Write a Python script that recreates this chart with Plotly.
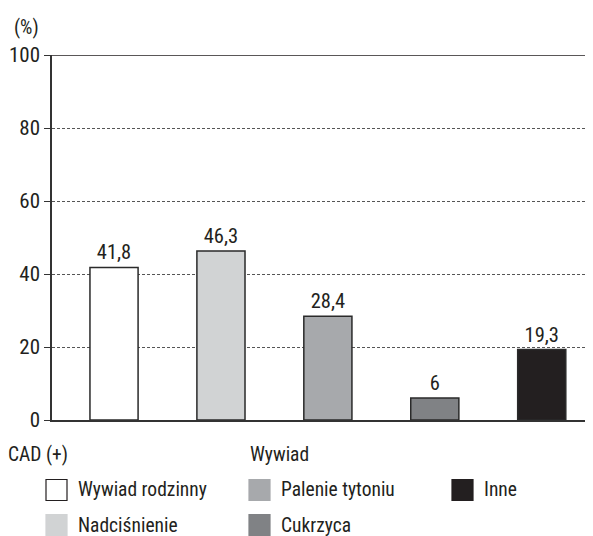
import plotly.graph_objects as go

# ---- data ----
categories = ["Wywiad rodzinny", "Nadciśnienie", "Palenie tytoniu", "Cukrzyca", "Inne"]
values = [41.8, 46.3, 28.4, 6, 19.3]
colors = ["#ffffff", "#d1d3d4", "#a7a9ac", "#808285", "#231f20"]
y_ticks = [0, 20, 40, 60, 80, 100]
legend_headers = ["CAD (+)", "Wywiad"]

labels = [f"{v:g}".replace(".", ",") for v in values]

FONT = "Roboto Condensed, Liberation Sans Narrow, sans-serif"
WEIGHT = 400
OFF = 8  # page body margin
W, H = 593 - OFF, 536 - OFF
L, R, T, B = 52 - OFF, 592 - OFF, 55 - OFF, 420 - OFF  # plot area in figure px


def px(x):  # x in reference-window px
    return (x - OFF - L) / (R - L)


def py(y):
    return (B - (y - OFF)) / (B - T)


fig = go.Figure()
fig.add_trace(go.Bar(
    x=categories, y=values,
    marker=dict(color=colors, line=dict(color="#2a2a2a", width=1.5)),
    width=0.45,
    text=labels, textposition="outside", cliponaxis=False,
    textfont=dict(family=FONT, size=20.5, color="#231f20", weight=WEIGHT),
    showlegend=False, hoverinfo="x+y",
))

# top solid line at 100
fig.add_shape(type="line", xref="paper", yref="y", x0=0, x1=1, y0=100, y1=100,
              line=dict(color="#231f20", width=1.5))

# custom legend
annotations = [
    dict(text="(%)", x=px(12), y=py(27), xanchor="left", yanchor="middle"),
    dict(text=legend_headers[0], x=px(6), y=py(454), xanchor="left", yanchor="middle"),
    dict(text=legend_headers[1], x=px(248), y=py(454), xanchor="left", yanchor="middle"),
]
legend_order = [0, 2, 4, 1, 3]
slots = [(46, 490), (249, 490), (452, 490), (46, 525), (249, 525)]
for idx, (sx, sy) in zip(legend_order, slots):
    border = "#231f20" if colors[idx] == "#ffffff" else colors[idx]
    fig.add_shape(type="rect", xref="paper", yref="paper",
                  x0=px(sx), x1=px(sx + 21), y0=py(sy - 10.5), y1=py(sy + 10.5),
                  fillcolor=colors[idx], line=dict(color=border, width=1.2))
    annotations.append(dict(text=categories[idx], x=px(sx + 30), y=py(sy),
                            xanchor="left", yanchor="middle"))

for a in annotations:
    a.update(xref="paper", yref="paper", showarrow=False,
             font=dict(family=FONT, size=19.5, color="#231f20", weight=WEIGHT))

fig.update_layout(
    width=W, height=H,
    margin=dict(l=L, r=W - R, t=T, b=H - B, pad=0),
    paper_bgcolor="white", plot_bgcolor="white",
    annotations=annotations,
    font=dict(family=FONT, size=20, color="#231f20", weight=WEIGHT),
)
fig.update_xaxes(range=[-0.58, 4.47], showticklabels=False, ticks="",
                 showline=True, linecolor="#333333", linewidth=1.5,
                 showgrid=False, zeroline=False)
fig.update_yaxes(range=[0, 100], tickvals=y_ticks, ticks="outside", ticklen=6,
                 tickcolor="#333333", tickwidth=1.2,
                 showline=True, linecolor="#333333", linewidth=1.5,
                 showgrid=True, gridcolor="#555555", gridwidth=1, griddash="3px,2px",
                 zeroline=False,
                 tickfont=dict(family=FONT, size=21, color="#231f20", weight=WEIGHT))

fig.write_html("out.html")
